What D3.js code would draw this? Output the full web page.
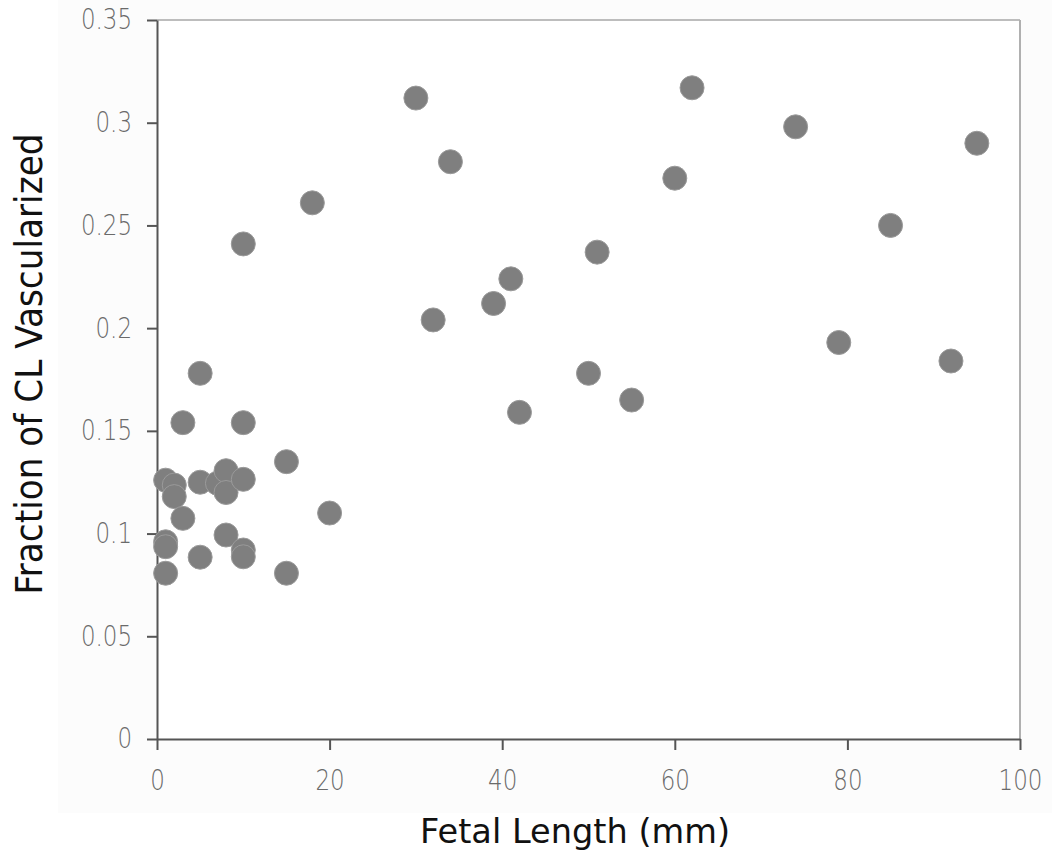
<!DOCTYPE html>
<html><head><meta charset="utf-8">
<script src="https://cdn.jsdelivr.net/npm/d3@7"></script>
<style>html,body{margin:0;padding:0;background:#fff;}</style>
</head><body>
<script>
const fetalLength = [1,2,2,5,7,8,8,10,1,1,1,3,3,5,5,8,10,10,10,15,15,20,10,18,30,32,34,39,41,42,50,51,55,60,62,74,79,85,92,95];
const fractionVasc = [0.126,0.1236,0.118,0.125,0.1245,0.1306,0.12,0.1264,0.096,0.0936,0.0807,0.1074,0.154,0.178,0.0885,0.0993,0.154,0.092,0.0887,0.135,0.0807,0.110,0.241,0.261,0.312,0.204,0.281,0.212,0.224,0.159,0.178,0.237,0.165,0.273,0.317,0.298,0.193,0.250,0.184,0.290];
const xTicks = [0,20,40,60,80,100];
const yTicks = [0,0.05,0.1,0.15,0.2,0.25,0.3,0.35];
const xTitle = "Fetal Length (mm)";
const yTitle = "Fraction of CL Vascularized";

const W = 1052, H = 855;
const m = {left:157, right:32, top:20, bottom:116};
const svg = d3.select("body").append("svg").attr("width",W).attr("height",H);
svg.append("rect").attr("x",58).attr("y",0).attr("width",W-58).attr("height",813).attr("fill","#fcfcfc");
const x = d3.scaleLinear().domain([0,100]).range([m.left, W-m.right]);
const y = d3.scaleLinear().domain([0,0.35]).range([H-m.bottom, m.top]);

svg.append("rect").attr("x",m.left).attr("y",m.top).attr("width",x(100)-m.left).attr("height",y(0)-m.top).attr("fill","#fff");
svg.append("line").attr("x1",x(0)).attr("x2",x(100)).attr("y1",y(0.35)).attr("y2",y(0.35)).attr("stroke","#bdbdbd").attr("stroke-width",2);
svg.append("line").attr("x1",x(100)).attr("x2",x(100)).attr("y1",y(0.35)).attr("y2",y(0)).attr("stroke","#b0b0b0").attr("stroke-width",2);

const fmtY = d => d===0 ? "0" : String(d);
const gx = svg.append("g").attr("transform",`translate(0,${y(0)})`)
  .call(d3.axisBottom(x).tickValues(xTicks).tickSize(11).tickPadding(20).tickSizeOuter(0).tickFormat(d3.format("d")));
const gy = svg.append("g").attr("transform",`translate(${x(0)},0)`)
  .call(d3.axisLeft(y).tickValues(yTicks).tickSize(10).tickPadding(15).tickSizeOuter(0).tickFormat(fmtY));
[gx,gy].forEach(g=>{
  g.attr("font-size",28);
  g.select(".domain").attr("stroke","#555").attr("stroke-width",2);
  g.selectAll(".tick line").attr("stroke","#555").attr("stroke-width",2);
  g.selectAll(".tick text").attr("fill","#6a6a6a").attr("font-family","'DejaVu Sans', sans-serif").attr("font-size",28).attr("font-weight",300)
    .attr("lengthAdjust","spacingAndGlyphs")
    .attr("textLength", function(){ return this.getComputedTextLength()*0.82; });
});
gx.selectAll(".tick text").attr("dy","0.72em");

svg.append("g").selectAll("circle").data(fetalLength.map((d,i)=>[d,fractionVasc[i]])).join("circle")
  .attr("cx",d=>x(d[0])).attr("cy",d=>y(d[1])).attr("r",12)
  .attr("fill","#7f7f7f").attr("stroke","#9a9a9a").attr("stroke-width",1);

svg.append("text").attr("x",575).attr("y",843).attr("text-anchor","middle")
  .attr("textLength",310).attr("lengthAdjust","spacingAndGlyphs")
  .style("font-family","'DejaVu Sans', sans-serif").style("font-size","34px").attr("fill","#111").text(xTitle);
svg.append("text").attr("transform","translate(42,364) rotate(-90)").attr("text-anchor","middle")
  .attr("textLength",461).attr("lengthAdjust","spacingAndGlyphs")
  .style("font-family","'DejaVu Sans', sans-serif").style("font-size","37px").attr("fill","#111").text(yTitle);
</script>
</body></html>
